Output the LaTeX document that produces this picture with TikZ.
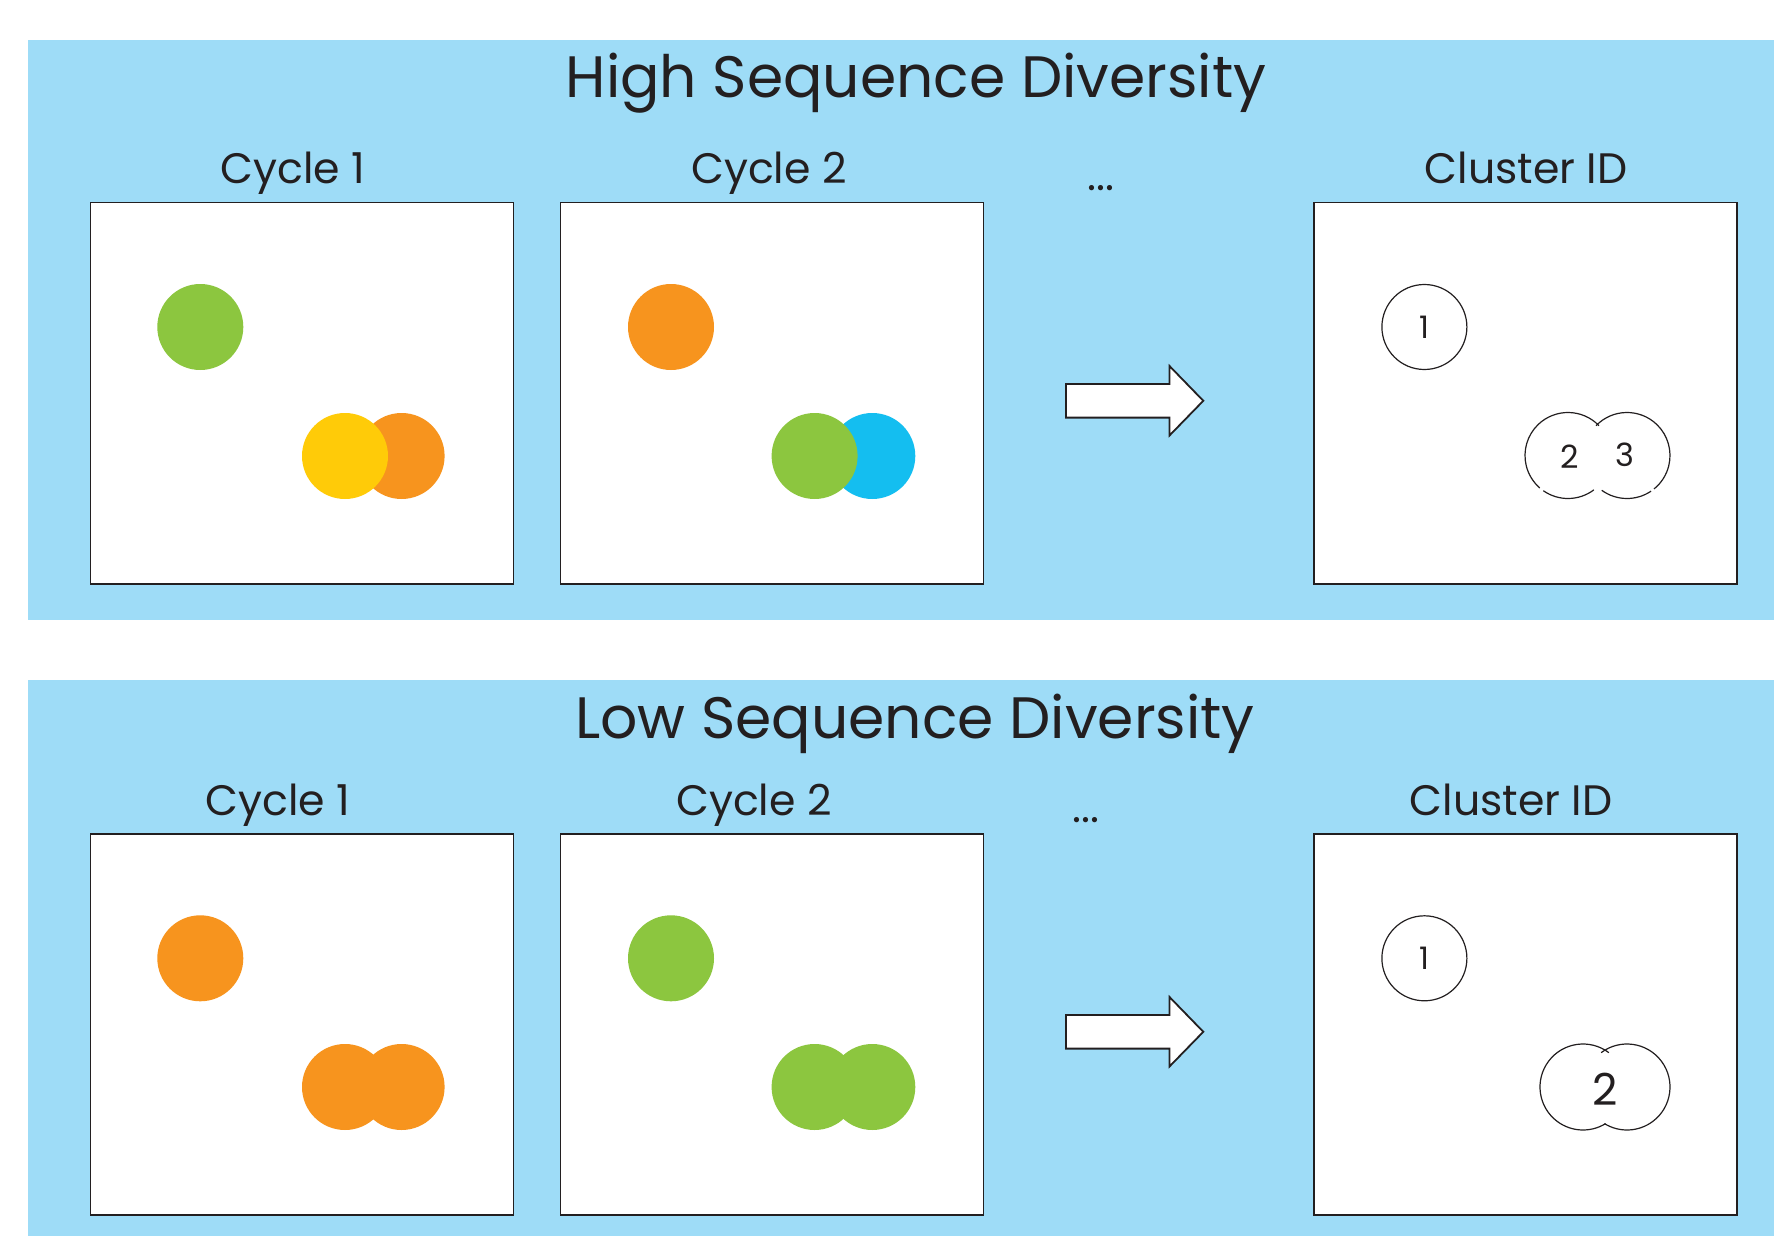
\documentclass[tikz,border=0pt]{standalone}
\usepackage{fontspec}
\setmainfont{Poppins}
\definecolor{panel}{HTML}{9EDCF7}
\definecolor{dgreen}{HTML}{8CC63F}
\definecolor{dorange}{HTML}{F7941E}
\definecolor{dyellow}{HTML}{FFCB08}
\definecolor{dcyan}{HTML}{14BEF0}
\definecolor{ink}{HTML}{231F20}
\begin{document}
\begin{tikzpicture}[x=0.5pt,y=-0.5pt,
  titletext/.style={text=ink,font=\fontsize{29.2}{34}\selectfont,anchor=base,inner sep=0pt},
  labeltext/.style={text=ink,font=\fontsize{21.3}{25}\selectfont,anchor=base,inner sep=0pt},
  frame/.style={draw=ink,line width=0.8pt,fill=white,minimum width=211.5pt,minimum height=190.7pt,inner sep=0pt},
  dot/.style={circle,minimum size=43pt,inner sep=0pt,draw=none},
  ring/.style={circle,draw=ink,line width=0.6pt,fill=white,minimum size=42.5pt,inner sep=0pt,text=ink,font=\fontsize{15.5}{18}\selectfont},
  ringline/.style={draw=ink,line width=0.6pt},
  numtext/.style={text=ink,inner sep=0pt,font=\fontsize{16}{19}\selectfont},
  bignum/.style={text=ink,inner sep=0pt,font=\fontsize{22}{26}\selectfont},
  fatarrow/.style={draw=ink,line width=0.9pt,fill=white,line join=miter}]
\useasboundingbox (0,0) rectangle (1774,1236);
\fill[white] (0,0) rectangle (1774,1236);

% ---------------- top panel ----------------
\fill[panel] (28,40) rectangle (1774,620);
\node[titletext] (titleA) at (916,98) {High Sequence Diversity};
\node[labeltext] (cycAa) at (293,184) {Cycle 1};
\node[labeltext] (cycAb) at (769,184) {Cycle 2};
\node[labeltext] (dotsA) at (1101,191) {...};
\node[labeltext] (cidA) at (1526,184) {Cluster ID};
\node[frame] (boxAa) at (302,393.2) {};
\node[frame] (boxAb) at (772,393.2) {};
\node[frame] (boxAc) at (1525.2,393.2) {};
\node[dot,fill=dgreen] (gA1) at (200.3,327) {};
\node[dot,fill=dorange] (oA1) at (401.6,456) {};
\node[dot,fill=dyellow] (yA1) at (345,456) {};
\node[dot,fill=dorange] (oA2) at (671,327) {};
\node[dot,fill=dcyan] (cA2) at (872.3,456) {};
\node[dot,fill=dgreen] (gA2) at (814.6,456) {};
\draw[fatarrow] (1066,384) -- (1169.5,384) -- (1169.5,366) -- (1203.3,400.8) -- (1169.5,435.5) -- (1169.5,417.6) -- (1066,417.6) -- cycle;
\node[ring] (kA1) at (1424.4,327) {1};
\coordinate (LA) at (1568,455.5);
\coordinate (RA) at (1627,455.5);
\draw[ringline] (LA) ++(-44:43) arc[start angle=-44,end angle=-229,radius=43];
\draw[ringline] (LA) ++(-235:43) arc[start angle=-235,end angle=-307,radius=43];
\draw[ringline] (RA) ++(-136:43) arc[start angle=-136,end angle=51,radius=43];
\draw[ringline] (RA) ++(56:43) arc[start angle=56,end angle=126,radius=43];
\node[numtext] (nA2) at (1570,457) {2};
\node[numtext] (nA3) at (1625,455) {3};

% ---------------- bottom panel ----------------
\fill[panel] (28,680) rectangle (1774,1236);
\node[titletext] (titleB) at (915,738) {Low Sequence Diversity};
\node[labeltext] (cycBa) at (278,815) {Cycle 1};
\node[labeltext] (cycBb) at (754,815) {Cycle 2};
\node[labeltext] (dotsB) at (1086,822) {...};
\node[labeltext] (cidB) at (1511,815) {Cluster ID};
\node[frame] (boxBa) at (302,1024.5) {};
\node[frame] (boxBb) at (772,1024.5) {};
\node[frame] (boxBc) at (1525.2,1024.5) {};
\node[dot,fill=dorange] (oB1) at (200.3,958.3) {};
\node[dot,fill=dorange] (oB1b) at (401.6,1087) {};
\node[dot,fill=dorange] (oB1a) at (345,1087) {};
\node[dot,fill=dgreen] (gB2) at (671,958.3) {};
\node[dot,fill=dgreen] (gB2b) at (872.3,1087) {};
\node[dot,fill=dgreen] (gB2a) at (814.6,1087) {};
\draw[fatarrow] (1066,1015) -- (1169.5,1015) -- (1169.5,997) -- (1203.3,1031.8) -- (1169.5,1066.5) -- (1169.5,1048.6) -- (1066,1048.6) -- cycle;
\node[ring] (kB1) at (1424.4,958.3) {1};
\coordinate (LB) at (1583,1087);
\coordinate (RB) at (1627,1087);
\draw[ringline] (LB) ++(-53:43) arc[start angle=-53,end angle=-301.6,radius=43];
\draw[ringline] (RB) ++(-127:43) arc[start angle=-127,end angle=121.6,radius=43];
\node[bignum] (nB2) at (1605,1089) {2};
\end{tikzpicture}
\end{document}
